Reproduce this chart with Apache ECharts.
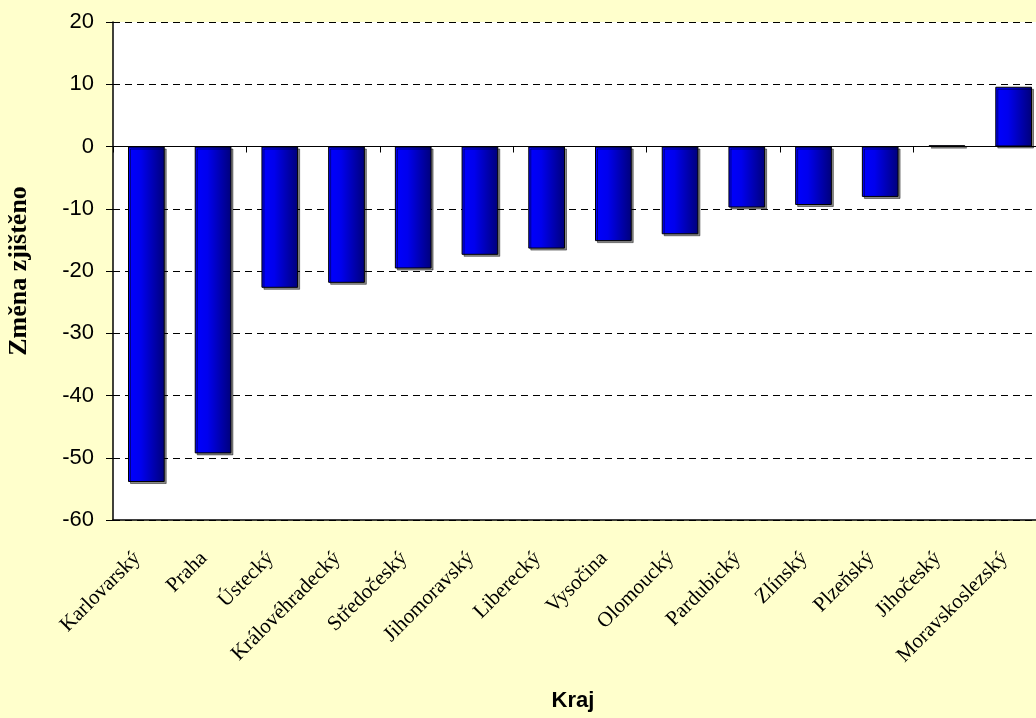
<!DOCTYPE html>
<html>
<head>
<meta charset="utf-8">
<script src="https://cdn.jsdelivr.net/npm/echarts@6/dist/echarts.min.js"></script>
<style>
  html, body { margin: 0; padding: 0; background: #FFFFCC; }
  #main { width: 1036px; height: 718px; }
</style>
</head>
<body>
<div id="main"></div>
<script>
// kraje, seřazeno podle změny
var categories = ['Karlovarský', 'Praha', 'Ústecký', 'Královéhradecký', 'Středočeský', 'Jihomoravský',
  'Liberecký', 'Vysočina', 'Olomoucký', 'Pardubický', 'Zlínský', 'Plzeňský', 'Jihočeský', 'Moravskoslezský'];
var values = [-53.9, -49.3, -22.7, -21.9, -19.6, -17.4, -16.4, -15.2, -14.1, -9.8, -9.4, -8.1, 0.2, 9.6];
var yTicks = { min: -60, max: 20, interval: 10 };

var chart = echarts.init(document.getElementById('main'));

// svetla modra vlevo, tmava vpravo
var barColor = new echarts.graphic.LinearGradient(0, 0, 1, 0, [
  { offset: 0, color: '#0000FF' },
  { offset: 0.35, color: '#0000EE' },
  { offset: 1, color: '#00007A' }
]);

var option = {
  backgroundColor: '#FFFFCC',
  animation: false,
  grid: {
    left: 113, top: 22, bottom: 198, right: -11,
    outerBoundsMode: 'none',
    containLabel: false,
    show: true, backgroundColor: '#FFFFFF', borderWidth: 0
  },
  xAxis: [
    {
      // osa v nule – jen čára a dílky
      type: 'category',
      data: categories,
      position: 'bottom',
      axisLine: { onZero: true, lineStyle: { color: '#000', width: 1 } },
      axisTick: { show: true, inside: false, length: 6, lineStyle: { color: '#000' } },
      axisLabel: { show: false },
      splitLine: { show: false }
    },
    {
      // spodní okraj s popisky
      type: 'category',
      data: categories,
      position: 'bottom',
      axisLine: { onZero: false, lineStyle: { color: '#000', width: 1.5 } },
      axisTick: { show: false },
      axisLabel: {
        rotate: 45,
        margin: 26,
        padding: [0, 13, 0, 0],
        fontFamily: '"Times New Roman", "Liberation Serif", serif',
        fontSize: 21,
        color: '#000'
      },
      name: 'Kraj',
      nameLocation: 'middle',
      nameGap: 170,
      nameTextStyle: {
        fontFamily: 'Arial, "Liberation Sans", sans-serif',
        fontWeight: 'bold',
        fontSize: 22,
        color: '#000',
        padding: [0, 14, 0, 0]
      }
    }
  ],
  yAxis: {
    type: 'value',
    min: yTicks.min,
    max: yTicks.max,
    interval: yTicks.interval,
    axisLine: { show: true, lineStyle: { color: '#000', width: 1.5 } },
    axisTick: { show: true, length: 7, lineStyle: { color: '#000' } },
    axisLabel: {
      margin: 19,
      fontFamily: 'Arial, "Liberation Sans", sans-serif',
      fontSize: 22,
      color: '#000'
    },
    splitLine: { show: true, lineStyle: { color: '#000', type: [7, 5], width: 1 } },
    name: 'Změna zjištěno',
    nameLocation: 'middle',
    nameGap: 81,
    nameTextStyle: {
      fontFamily: '"Times New Roman", "Liberation Serif", serif',
      fontWeight: 'bold',
      fontSize: 26,
      color: '#000'
    }
  },
  series: [{
    type: 'bar',
    xAxisIndex: 0,
    data: values,
    barWidth: '55%',
    itemStyle: {
      color: barColor,
      borderColor: '#000',
      borderWidth: 1,
      shadowColor: 'rgba(0,0,0,0.45)',
      shadowOffsetX: 2,
      shadowOffsetY: 2,
      shadowBlur: 0
    }
  }]
};

chart.setOption(option);
</script>
</body>
</html>
